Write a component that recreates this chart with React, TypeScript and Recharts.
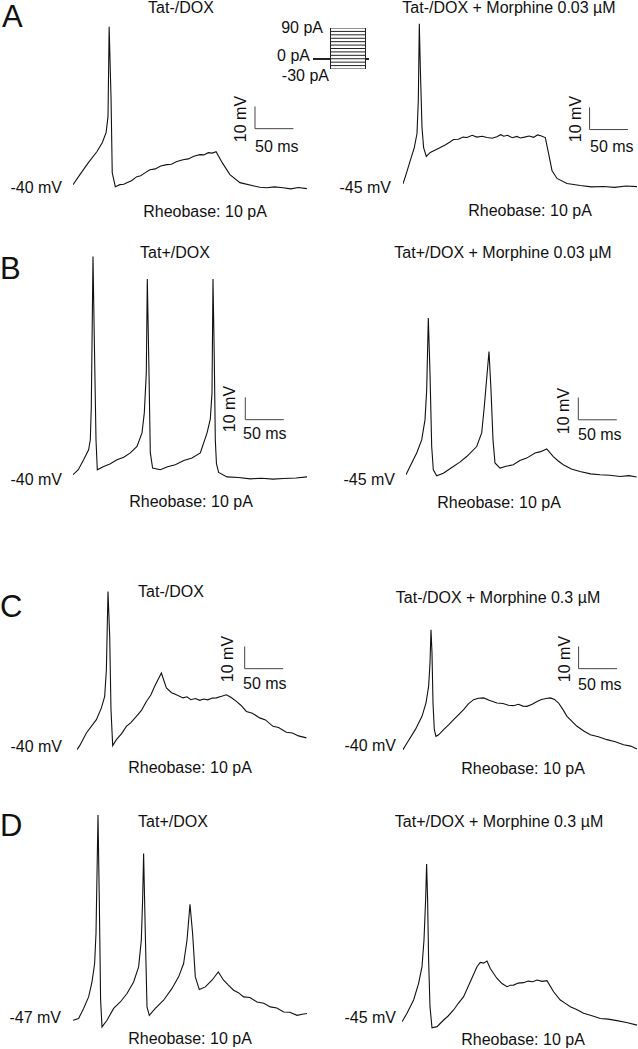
import { Line, LineChart, ReferenceLine, XAxis, YAxis } from "recharts";

// scale of the recordings on the page
const MS_PER_PX = 1.3;
const MV_PER_PX = 0.45;
const T_DOMAIN: [number, number] = [0, 320];
const V_DOMAIN: [number, number] = [-80, 80];

// traces: [time ms, membrane potential mV]
const traceA1: [number, number][] = [
  [0, -40], [9, -35.5], [20, -30.1], [31, -25.2], [38, -21.1], [43, -16.6], [45.5, -9.4], [47, 31.1],
  [49.5, -1.8], [51, -34.6], [55, -40.9], [61, -40], [66, -39.8], [70, -39.1], [76, -38.2], [83, -36.4],
  [88, -36], [93, -34.8], [100, -33.3], [107, -32.9], [114, -31.6], [122, -31], [128, -30.8], [135, -29.6],
  [143, -28.8], [150, -28.4], [157, -27.2], [165, -26.5], [170, -26.6], [176, -25.6], [181, -25.8],
  [186, -25.2], [194, -30.1], [204, -35.5], [217, -39.1], [234, -40.5], [243, -41.2], [252, -41.4],
  [262, -41], [273, -41.4], [283, -41.9], [293, -41.3], [304, -41.8],
];
const traceA2: [number, number][] = [
  [0, -45], [4.3, -40.4], [9.5, -34.5], [14.7, -28.7], [18.2, -22.4], [19.9, -7.5], [21.2, 27], [22.5, 7.3],
  [24.7, -19.7], [26.8, -28.7], [30.3, -32.7], [35.5, -30.9], [48.5, -28.7], [56, -27.3], [65.8, -25.1],
  [72, -25], [78, -24], [83.2, -24.2], [90, -23.2], [96, -24], [103, -23.6], [109.2, -24.2], [116, -24.5],
  [122, -23.8], [127, -22.9], [131, -23.6], [136, -23.2], [142, -24.3], [148, -23.7], [152.5, -24.4],
  [158, -24], [164, -23.5], [170, -24.1], [175, -23], [180, -23.5], [185, -24.2], [189.3, -31.4],
  [193.7, -39], [200.2, -42.6], [213.2, -44.9], [230.5, -45.8], [245, -46.4], [260.8, -46.2], [275, -46.6],
  [290, -46], [304.2, -46.3],
];
const traceB1: [number, number][] = [
  [0, -40], [6.9, -37.8], [13.8, -33.3], [20.3, -28.8], [22.5, -24.3], [23.8, -9.3], [26, 58.2], [27.7, 20.8],
  [29.9, -24.3], [31.6, -37.8], [39.8, -36.3], [48, -35.2], [57.2, -33.3], [66, -32.2], [74.5, -30.2],
  [83.2, -27.3], [89.7, -21.2], [92.7, -12.2], [95.3, 5.8], [96.6, 48.1], [98.8, 5.9], [100.5, -30.1],
  [103.5, -37], [113.5, -37.8], [123, -36.4], [133, -35.5], [144, -33.6], [154.7, -32.5], [165.5, -30.2],
  [174.2, -21.3], [178.5, -15], [180.7, -3.3], [182, 48], [183.7, 11.8], [185, -24.3], [186.5, -35],
  [189.3, -39], [200.2, -41], [215, -41.3], [230.5, -41.9], [245, -41.6], [260, -42], [273.8, -41.7],
  [290, -41.5], [304.2, -41],
];
const traceB2: [number, number][] = [
  [0, -45], [5.2, -41.3], [13.9, -35.2], [20.4, -29.3], [24.7, -20.3], [26.9, -6.8], [29, 25.5], [31.2, 0.8],
  [33.4, -32.3], [35.5, -42.8], [39.9, -45.5], [48.5, -44.3], [61.5, -41.3], [70, -39.3], [78.9, -36.8],
  [91.9, -32.3], [98.4, -26.2], [101.8, -14.3], [107.9, 10.5], [110.5, -6.8], [113.1, -29.3], [115.7, -39.7],
  [122.2, -42], [130, -41.2], [139.5, -40.5], [148, -38.6], [156.9, -37.5], [167.7, -35.2], [175, -34.6],
  [182.9, -33.4], [191.5, -36.8], [198, -38.8], [204.5, -40.5], [215, -42.4], [226.2, -43.5], [240, -44.6],
  [252.2, -45], [265, -45.2], [278.2, -45.8], [290, -45.4], [299.9, -46],
];
const traceC1: [number, number][] = [
  [0, -40], [3.5, -38.2], [12.2, -32.5], [25.2, -26.5], [31.7, -21.2], [36, -16], [38.2, -4], [40.3, 31.2],
  [42.5, 11], [44.2, -22], [46.4, -38.2], [51.2, -35.5], [58, -32.8], [64.2, -29.5], [70, -27.8],
  [77.2, -25], [84, -22.2], [90.2, -18.3], [96, -15.4], [101, -11.5], [109.7, -5.5], [116.2, -12.2],
  [123, -14.4], [129.2, -15.3], [137.8, -16.7], [143, -16.2], [148, -17.5], [154, -17], [159.5, -17.8],
  [165, -17.2], [170, -17.6], [176, -16.8], [181.2, -16.7], [188, -16], [194.2, -15.3], [200, -16.4],
  [207.2, -18.3], [213, -20], [220.2, -22.8], [228, -23.6], [237.5, -25.7], [245, -26.6], [254.8, -29.5],
  [262, -30], [272.2, -32.2], [280, -32.5], [288, -33.8], [298.2, -34.7],
];
const traceC2: [number, number][] = [
  [0, -40], [5.2, -37], [16, -31], [24.7, -25], [29.9, -19], [33.3, -11.5], [35.1, -1], [36.4, 14],
  [37.7, 3.5], [39, -19], [40.7, -31], [42.9, -34], [46.3, -33.3], [52.8, -31], [59.3, -28.8], [65.8, -26.5],
  [72, -24.3], [78.8, -22], [85, -19.4], [91.8, -17.5], [98, -16.9], [104.8, -16.7], [112, -17.8],
  [122.2, -19], [130, -19.2], [137, -20], [143.8, -20.2], [150, -19.6], [156, -20.4], [161.2, -20.5],
  [168, -19.6], [174.2, -18.3], [180, -17.4], [186, -17], [191.5, -16.7], [197, -17.4], [202.3, -19],
  [208, -22], [213.2, -25], [220, -27.4], [226.2, -29.5], [235, -31.6], [243.5, -33.3], [254, -34.2],
  [265.2, -35.5], [276, -36.4], [286.8, -37.8], [296, -38.4], [304.2, -39.7],
];
const traceD1: [number, number][] = [
  [0, -47], [7.3, -46.2], [13.8, -41.7], [20.3, -36.5], [24.7, -29.8], [28.1, -21.5], [29.9, -8], [32.5, 45.3],
  [34.2, 7], [35.9, -38], [37.7, -50], [44.2, -47], [52.8, -41.7], [61.5, -38.8], [70.2, -35], [78.8, -29.8],
  [85.3, -23], [88.8, -11], [90.5, 7], [91.8, 28], [94, -8], [96.2, -41], [99.2, -44.8], [107, -41.7],
  [117.8, -38], [128.7, -32.7], [137.3, -27.5], [143.8, -21.5], [148.2, -11], [152.1, 5.2], [155.5, -8],
  [159, -27.5], [164.2, -33.2], [172, -32], [180.7, -29], [188.9, -25.3], [195.8, -29], [202, -31.2],
  [208.8, -33.5], [215, -34.6], [221.8, -36.5], [230, -36.8], [239.2, -38.8], [248, -39.4], [256.5, -41],
  [265, -41.5], [273.8, -43.3], [282, -43.4], [291.2, -44.8], [298, -44.3], [304.2, -44],
];
const traceD2: [number, number][] = [
  [0, -45], [6.5, -41.2], [15.1, -35.2], [21.6, -27.7], [26, -20.2], [28.6, -8.2], [30.7, 9.8], [32, 26],
  [33.3, 9.8], [34.6, -17.2], [36.4, -38.2], [39, -47.7], [45.5, -47.2], [54.1, -44.2], [60, -42.4],
  [67.1, -39.7], [73, -36.8], [80.1, -33.7], [88.8, -27], [97.5, -20.2], [101.8, -18.3], [106, -18.6],
  [110.5, -17.7], [114.8, -21], [123.5, -25.5], [130, -27.8], [136.5, -29.2], [141, -28.6], [145.1, -28.5],
  [151, -27.6], [158, -27.4], [164, -26.7], [170, -27], [175.5, -26.2], [182, -26.8], [188.5, -26.5],
  [197.1, -31.5], [205.8, -35.2], [212, -36.6], [218.8, -38.2], [227, -39.5], [236.1, -41.2], [247, -42.3],
  [257.8, -43.5], [268, -43.8], [279.5, -44.5], [292, -45.3], [305.5, -46.5],
];

// current-step protocol in the inset (pA)
const stepAmps = [-30, -20, -10, 0, 10, 20, 30, 40, 50, 60, 70, 80, 90];
const stepTimes = [0, 50, 150, 160];

const titles = [
  "Tat-/DOX", "Tat-/DOX + Morphine 0.03 µM",
  "Tat+/DOX", "Tat+/DOX + Morphine 0.03 µM",
  "Tat-/DOX", "Tat-/DOX + Morphine 0.3 µM",
  "Tat+/DOX", "Tat+/DOX + Morphine 0.3 µM",
];
const restLabels = ["-40 mV", "-45 mV", "-40 mV", "-45 mV", "-40 mV", "-40 mV", "-47 mV", "-45 mV"];
const rheobase = "Rheobase: 10 pA";

const FONT = '"Liberation Sans", Arial, Helvetica, sans-serif';
const INK = "#111";

type Panel = {
  trace: [number, number][];
  left: number;
  base: number;
  rest: number;
  bar?: [number, number];
  title: [number, number];
  restAt: [number, number];
  rheoAt: [number, number];
  barText?: { ms: [number, number]; mv: [number, number] };
};

const panels: Panel[] = [
  { trace: traceA1, left: 73, base: 185, rest: -40, bar: [236.6, -14.8], title: [181, 13], restAt: [62, 193], rheoAt: [205, 217], barText: { ms: [255, 152], mv: [246, 119] } },
  { trace: traceA2, left: 402.7, base: 183.3, rest: -45, bar: [242.6, -20.6], title: [509, 13], restAt: [391, 193], rheoAt: [530, 216], barText: { ms: [590, 152], mv: [581, 119] } },
  { trace: traceB1, left: 72.7, base: 475, rest: -40, bar: [224, -15.25], title: [175, 258], restAt: [62, 485], rheoAt: [191, 507], barText: { ms: [243, 439], mv: [235, 409] } },
  { trace: traceB2, left: 406, base: 475, rest: -45, bar: [224, -20.25], title: [503, 258], restAt: [395, 485], rheoAt: [499, 508], barText: { ms: [578, 440], mv: [569, 411] } },
  { trace: traceC1, left: 77.3, base: 750, rest: -40, bar: [218, -3.55], title: [171, 597], restAt: [62, 752], rheoAt: [190, 773], barText: { ms: [243, 689], mv: [233, 659] } },
  { trace: traceC2, left: 402.7, base: 750, rest: -40, bar: [228.3, -3.55], title: [498, 603], restAt: [396, 751], rheoAt: [523, 774], barText: { ms: [578, 690], mv: [570, 659] } },
  { trace: traceD1, left: 72.7, base: 1020, rest: -47, title: [173, 827], restAt: [61, 1023], rheoAt: [190, 1044] },
  { trace: traceD2, left: 401.7, base: 1021.7, rest: -45, title: [499, 827], restAt: [396, 1023], rheoAt: [523, 1045] },
];

const letters: [string, number, number][] = [
  ["A", 2, 27],
  ["B", 0, 279],
  ["C", 0, 617],
  ["D", 0, 836],
];

function Trace({ panel }: { panel: Panel }) {
  const width = (T_DOMAIN[1] - T_DOMAIN[0]) / MS_PER_PX;
  const height = (V_DOMAIN[1] - V_DOMAIN[0]) / MV_PER_PX;
  const top = panel.base - (V_DOMAIN[1] - panel.rest) / MV_PER_PX;
  const data = panel.trace.map(([t, v]) => ({ t, v }));
  const bar = panel.bar;
  return (
    <div style={{ position: "absolute", left: panel.left, top }}>
      <LineChart width={width} height={height} data={data} margin={{ top: 0, right: 0, bottom: 0, left: 0 }}>
        <XAxis type="number" dataKey="t" domain={T_DOMAIN} allowDataOverflow hide />
        <YAxis type="number" domain={V_DOMAIN} allowDataOverflow hide />
        <Line type="linear" dataKey="v" stroke={INK} strokeWidth={1.1} dot={false} isAnimationActive={false} />
        {bar && (
          <ReferenceLine
            segment={[{ x: bar[0], y: bar[1] }, { x: bar[0] + 50, y: bar[1] }]}
            stroke="#444"
            strokeWidth={1}
            ifOverflow="visible"
          />
        )}
        {bar && (
          <ReferenceLine
            segment={[{ x: bar[0], y: bar[1] }, { x: bar[0], y: bar[1] + 10 }]}
            stroke="#444"
            strokeWidth={1}
            ifOverflow="visible"
          />
        )}
      </LineChart>
    </div>
  );
}

function StepInset() {
  return (
    <div style={{ position: "absolute", left: 313, top: 26 }}>
      <LineChart width={58} height={45} margin={{ top: 2, right: 2, bottom: 2, left: 0 }}>
        <XAxis type="number" dataKey="t" domain={[0, 160]} allowDataOverflow hide />
        <YAxis type="number" domain={[-30, 90]} allowDataOverflow hide />
        {stepAmps.map((a) => (
          <Line
            key={a}
            data={[
              { t: stepTimes[0], i: 0 },
              { t: stepTimes[1], i: 0 },
              { t: stepTimes[1], i: a },
              { t: stepTimes[2], i: a },
              { t: stepTimes[2], i: 0 },
              { t: stepTimes[3], i: 0 },
            ]}
            dataKey="i"
            type="linear"
            stroke="#222"
            strokeWidth={1}
            dot={false}
            isAnimationActive={false}
          />
        ))}
      </LineChart>
    </div>
  );
}

export default function App() {
  return (
    <div
      style={{
        position: "absolute",
        left: 0,
        top: 0,
        width: 638,
        height: 1049,
        overflow: "hidden",
        background: "#fff",
      }}
    >
      {panels.map((p, i) => (
        <Trace key={i} panel={p} />
      ))}
      <StepInset />
      <svg
        width={638}
        height={1049}
        style={{ position: "absolute", left: 0, top: 0, pointerEvents: "none" }}
        fontFamily={FONT}
        fill={INK}
      >
        {letters.map(([l, x, y]) => (
          <text key={l} x={x} y={y} fontSize={31}>
            {l}
          </text>
        ))}
        {panels.map((p, i) => (
          <g key={i} fontSize={16}>
            <text x={p.title[0]} y={p.title[1]} textAnchor="middle">
              {titles[i]}
            </text>
            <text x={p.restAt[0]} y={p.restAt[1]} textAnchor="end">
              {restLabels[i]}
            </text>
            <text x={p.rheoAt[0]} y={p.rheoAt[1]} textAnchor="middle">
              {rheobase}
            </text>
            {p.barText && (
              <>
                <text x={p.barText.ms[0]} y={p.barText.ms[1]}>
                  50 ms
                </text>
                <text
                  x={p.barText.mv[0]}
                  y={p.barText.mv[1]}
                  textAnchor="middle"
                  transform={`rotate(-90 ${p.barText.mv[0]} ${p.barText.mv[1]})`}
                >
                  10 mV
                </text>
              </>
            )}
          </g>
        ))}
        <g fontSize={16}>
          <text x={323} y={33} textAnchor="end">
            90 pA
          </text>
          <text x={310} y={61} textAnchor="end">
            0 pA
          </text>
          <text x={329} y={81} textAnchor="end">
            -30 pA
          </text>
        </g>
      </svg>
    </div>
  );
}
